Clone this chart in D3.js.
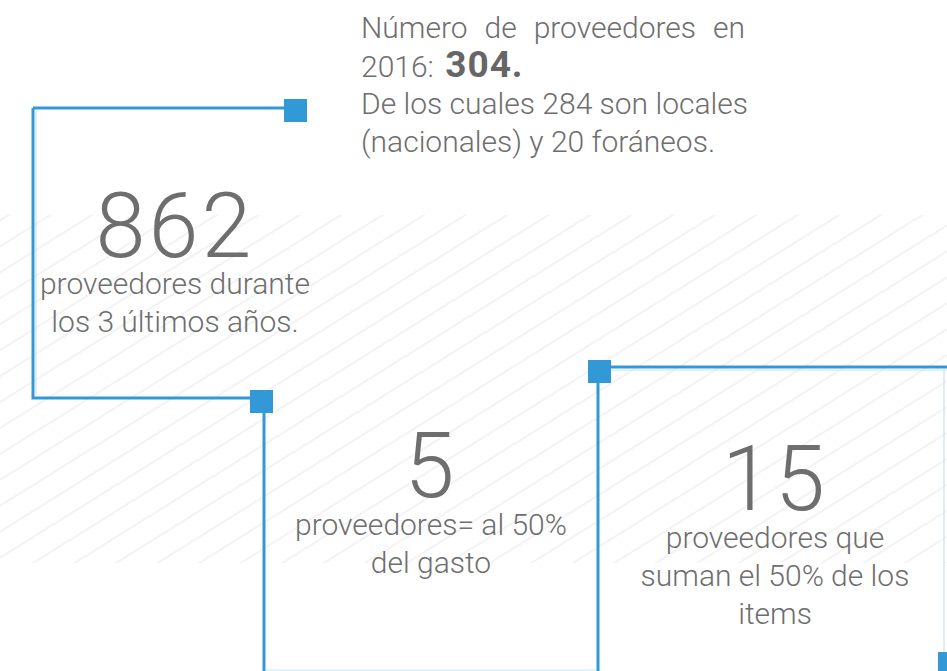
<!DOCTYPE html>
<html>
<head>
<meta charset="utf-8">
<script src="https://cdn.jsdelivr.net/npm/d3@7"></script>
<style>
  body { margin: 0; background: #fff; }
  svg { display: block; }
  text { font-family: Roboto, "Open Sans", sans-serif; fill: #6e6e6e; }
</style>
</head>
<body>
<div id="chart"></div>
<script>
// Figures shown in the infographic
var statValues = ["862", "5", "15"];
var statLabels = [
    ["proveedores durante", "los 3 últimos años."],
    ["proveedores= al 50%", "del gasto"],
    ["proveedores que", "suman el 50% de los", "items"]
];
var headerWords = ["Número", "de", "proveedores", "en"];
var headerYear = "2016: ";
var headerTotal = "304.";
var headerLines = ["De los cuales 284 son locales", "(nacionales) y 20 foráneos."];

var width = 947, height = 671;
var blue = "#3399d6", paleBlue = "#c4e5f3";

var svg = d3.select("#chart").append("svg")
    .attr("width", width)
    .attr("height", height);

// diagonal hatch in the background
var defs = svg.append("defs");
var pat = defs.append("pattern")
    .attr("id", "hatch")
    .attr("patternUnits", "userSpaceOnUse")
    .attr("width", 22).attr("height", 22)
    .attr("patternTransform", "rotate(-32)");
pat.append("line")
    .attr("x1", 0).attr("y1", 11).attr("x2", 22).attr("y2", 11)
    .attr("stroke", "#efefef").attr("stroke-width", 1.5);

svg.append("rect")
    .attr("x", 0).attr("y", 215)
    .attr("width", width).attr("height", 348)
    .attr("fill", "url(#hatch)");

// connector paths and their square nodes
var paths = [
    [[33, 108], [296, 108]],
    [[33, 108], [33, 398], [262, 398]],
    [[264, 401], [264, 671]],
    [[598, 371], [598, 671]],
    [[599, 367], [947, 367]]
];
var paleLines = [
    [[36, 111], [36, 395]],
    [[266, 670], [596, 670]],
    [[601, 370], [947, 370]],
    [[944, 370], [944, 652]]
];
var squares = [[284, 99], [250, 390], [588, 360], [938, 652]];

var line = d3.line();

svg.append("g").selectAll("path.pale")
    .data(paleLines).enter().append("path")
    .attr("class", "pale")
    .attr("d", line)
    .attr("fill", "none")
    .attr("stroke", paleBlue)
    .attr("stroke-width", 1.2);

svg.append("g").selectAll("path.main")
    .data(paths).enter().append("path")
    .attr("class", "main")
    .attr("d", line)
    .attr("fill", "none")
    .attr("stroke", blue)
    .attr("stroke-width", 3);

svg.append("g").selectAll("rect")
    .data(squares).enter().append("rect")
    .attr("x", d => d[0]).attr("y", d => d[1])
    .attr("width", 23).attr("height", 23)
    .attr("fill", blue);

// header text block (first line justified)
var left = 361, right = 745, hdrSize = 30;
var hdr = svg.append("g").style("font-size", hdrSize + "px").style("font-weight", 300);

var words = hdr.selectAll("text.w")
    .data(headerWords).enter().append("text")
    .attr("class", "w")
    .attr("y", 38)
    .text(d => d);
var widths = [];
words.each(function () { widths.push(this.getComputedTextLength()); });
var gap = (right - left - d3.sum(widths)) / (headerWords.length - 1);
var cursor = left;
words.attr("x", function (d, i) {
    var x = cursor;
    cursor += widths[i] + gap;
    return x;
});

var yearLine = hdr.append("text").attr("x", left).attr("y", 77);
yearLine.append("tspan").text(headerYear);
yearLine.append("tspan").text(headerTotal)
    .attr("dx", 4)
    .style("font-weight", 700).style("font-size", "37px")
    .style("letter-spacing", "1px").attr("fill", "#666");

hdr.selectAll("text.l")
    .data(headerLines).enter().append("text")
    .attr("class", "l")
    .attr("x", left)
    .attr("y", (d, i) => 114 + i * 38)
    .text(d => d);

// statistic blocks
var blocks = [
    { cx: 175, numY: 257, labelY: 294 },
    { cx: 431, numY: 497, labelY: 535 },
    { cx: 775, numY: 510, labelY: 548 }
];

var g = svg.append("g").selectAll("g.stat")
    .data(statValues).enter().append("g")
    .attr("class", "stat");

g.append("text")
    .attr("x", (d, i) => blocks[i].cx)
    .attr("y", (d, i) => blocks[i].numY)
    .attr("text-anchor", "middle")
    .style("font-size", "90px")
    .style("font-weight", 300)
    .style("letter-spacing", "3px")
    .text(d => d);

g.each(function (d, i) {
    d3.select(this).selectAll("text.lbl")
        .data(statLabels[i]).enter().append("text")
        .attr("class", "lbl")
        .attr("x", blocks[i].cx)
        .attr("y", (t, j) => blocks[i].labelY + j * 38)
        .attr("text-anchor", "middle")
        .style("font-size", "30px")
        .style("font-weight", 300)
        .text(t => t);
});
</script>
</body>
</html>
